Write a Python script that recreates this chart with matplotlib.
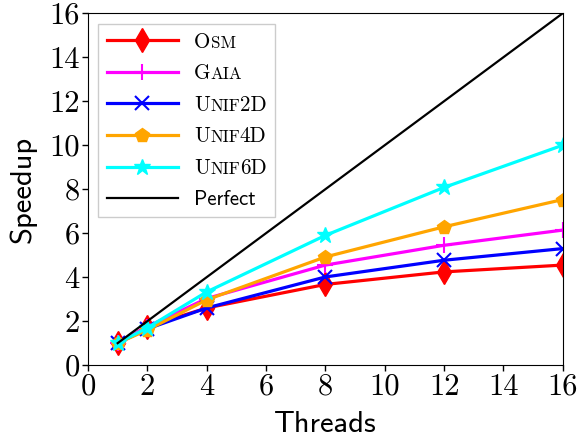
import matplotlib

matplotlib.use("Agg")
import matplotlib.pyplot as plt  # noqa: E402
from matplotlib.offsetbox import HPacker, TextArea  # noqa: E402

threads = [1, 2, 4, 8, 12, 16]
osm = [1.0, 1.75, 2.6, 3.67, 4.24, 4.55]
gaia = [1.0, 1.75, 3.03, 4.55, 5.45, 6.14]
unif2d = [1.0, 1.65, 2.6, 4.01, 4.77, 5.3]
unif4d = [1.0, 1.6, 2.97, 4.92, 6.29, 7.53]
unif6d = [1.0, 1.7, 3.33, 5.9, 8.08, 10.0]
perfect_x = [1, 16]
perfect_y = [1, 16]

ticks = [0, 2, 4, 6, 8, 10, 12, 14, 16]

# legend labels split into (text, small?) pieces to mimic small caps
label_parts = [
    [("O", False), ("SM", True)],
    [("G", False), ("AIA", True)],
    [("U", False), ("NIF", True), ("2D", False)],
    [("U", False), ("NIF", True), ("4D", False)],
    [("U", False), ("NIF", True), ("6D", False)],
]

plt.rcParams["axes.unicode_minus"] = False
plt.rcParams["axes.formatter.use_mathtext"] = False

fig = plt.figure(figsize=(5.79, 4.41), dpi=100)
ax = fig.add_axes([0.152, 0.172, 0.820, 0.798])

series = [
    (osm, "red", "d", 12, None),
    (gaia, "magenta", "+", 11, 1.5),
    (unif2d, "blue", "x", 10, 1.5),
    (unif4d, "orange", "p", 10.5, None),
    (unif6d, "cyan", "*", 12, None),
]
for i, (vals, col, mk, ms, mew) in enumerate(series):
    kw = {}
    if mew:
        kw["markeredgewidth"] = mew
    ax.plot(threads, vals, color=col, marker=mk, markersize=ms, linewidth=2.3,
            label="x" * (i + 1), **kw)
ax.plot(perfect_x, perfect_y, color="black", linewidth=1.6, label="Perfect")

ax.set_xlim(0, 16)
ax.set_ylim(0, 16)
ax.set_xticks(ticks)
ax.set_yticks(ticks)
ax.set_xticklabels([str(t) for t in ticks], family="cmr10", fontsize=22)
ax.set_yticklabels([str(t) for t in ticks], family="cmr10", fontsize=22)
ax.tick_params(length=4, width=1, pad=2)
ax.set_xlabel("Threads", family="cmss10", fontsize=22, labelpad=7)
ax.set_ylabel("Speedup", family="cmss10", fontsize=22, labelpad=9)

leg = ax.legend(loc="upper left", fontsize=15, handlelength=3.4,
                handletextpad=0.8, labelspacing=0.58, borderpad=0.4,
                fancybox=False, edgecolor="#cccccc", framealpha=1)
leg.get_frame().set_linewidth(1.0)
for t in leg.get_texts():
    t.set_family("cmss10")

# swap the placeholder label boxes for small-caps style pieces
rows = []
for col_box in leg._legend_handle_box.get_children():
    rows.extend(col_box.get_children())
for row, parts in zip(rows, label_parts):
    pieces = [TextArea(s, textprops=dict(family="cmr10",
                                         size=12.2 if small else 15.2))
              for s, small in parts]
    box = HPacker(children=pieces, pad=0, sep=0, align="baseline")
    box.set_figure(fig)
    row.get_children()[1] = box

fig.savefig("out.png", dpi=100)
